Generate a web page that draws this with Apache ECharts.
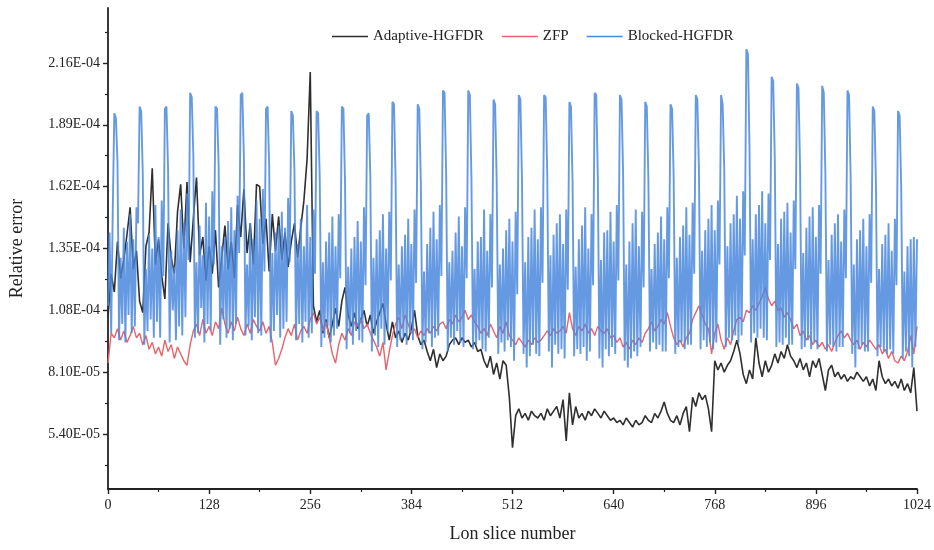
<!DOCTYPE html>
<html>
<head>
<meta charset="utf-8">
<script src="https://cdn.jsdelivr.net/npm/echarts@6/dist/echarts.min.js"></script>
<style>
  html, body { margin: 0; padding: 0; background: #fff; }
  #main { width: 934px; height: 550px; }
</style>
</head>
<body>
<div id="main"></div>
<script>
// values are in units of 1e-5
const SCALE = 1e-5;
const STEP_COARSE = 4; // Adaptive-HGFDR and ZFP: one value every 4 slices
const STEP_FINE = 2;   // Blocked-HGFDR: one value every 2 slices

const adaptive = [
  10.5, 12.4, 11.6, 13.8, 12.2, 13.0, 14.1, 15.3, 12.6, 13.4, 11.2, 10.7, 13.6, 14.2, 17.0, 12.8,
  13.9, 12.3, 11.3, 14.6, 13.1, 12.4, 15.1, 16.3, 13.5, 16.4, 12.9, 14.8, 16.6, 13.2, 14.0, 12.1,
  13.6, 12.4, 14.3, 11.8, 13.1, 14.5, 12.6, 13.8, 12.2, 15.4, 14.0, 16.1, 13.3, 14.6, 12.8, 16.3,
  16.2, 13.7, 14.8, 12.5, 15.0, 13.4, 14.9, 13.0, 14.2, 12.7, 13.8, 14.6, 13.1, 14.4, 15.6, 17.4,
  21.2, 11.0, 10.3, 10.8, 9.8, 10.4, 9.6, 10.2, 10.9, 10.1, 11.2, 11.8, 10.6, 10.1, 10.7, 10.0,
  10.4, 10.8, 10.1, 10.6, 9.8, 10.3, 10.7, 11.1, 10.2, 9.5, 10.3, 9.6, 9.9, 9.4, 9.8, 9.5,
  10.0, 10.8, 9.7, 9.3, 9.5, 9.0, 8.6, 9.1, 8.3, 8.9, 8.6, 8.8, 9.3, 9.5, 9.6, 9.3,
  9.6, 9.4, 9.5, 9.2, 9.4, 9.0, 9.1, 8.6, 8.3, 8.8, 8.0, 8.5, 7.8, 8.6, 8.4, 7.0,
  4.8, 6.2, 6.5, 6.1, 6.3, 6.0, 6.4, 6.2, 6.1, 6.3, 6.0, 6.5, 6.2, 6.4, 6.6, 6.1,
  6.9, 5.1, 7.2, 5.8, 6.6, 6.1, 6.3, 6.0, 6.4, 6.2, 6.5, 6.3, 6.1, 6.4, 6.2, 6.0,
  6.1, 5.9, 6.0, 5.8, 6.1, 5.9, 5.7, 6.0, 5.8, 5.9, 6.2, 6.0, 5.9, 6.3, 6.1, 6.4,
  6.8, 6.3, 6.0, 5.9, 6.2, 5.8, 6.3, 6.6, 5.5, 7.0, 6.6, 7.2, 6.9, 7.1, 6.5, 5.5,
  8.6, 8.2, 8.5, 8.1, 8.4, 8.6, 9.0, 9.5, 8.9, 8.0, 7.6, 8.2, 7.8, 9.6, 8.5, 7.9,
  8.6, 8.1, 8.4, 8.9, 8.5, 9.0, 8.7, 9.3, 8.8, 8.6, 8.3, 8.7, 8.2, 8.5, 7.9, 8.6,
  8.3, 8.7, 8.0, 7.3, 8.2, 8.4, 7.9, 8.1, 7.8, 8.0, 7.7, 7.9, 7.8, 8.1, 7.9, 7.7,
  7.9, 7.5, 7.8, 7.3, 8.6, 7.9, 7.6, 7.8, 7.5, 7.7, 7.4, 7.8, 7.3, 7.6, 7.2, 8.3,
  6.4
];

const zfp = [
  8.5, 9.8, 9.6, 10.0, 9.5, 9.9, 9.4, 9.7, 10.1, 9.6, 9.8, 9.3, 9.7, 9.1, 9.4, 8.9,
  9.2, 8.8, 9.5, 9.0, 9.3, 8.7, 9.2, 8.9, 8.6, 8.4, 9.3, 9.9, 10.2, 9.7, 10.4, 9.8,
  10.1, 9.7, 10.3, 10.0, 10.9, 10.2, 9.8, 10.3, 9.9, 10.5, 10.0, 9.7, 10.2, 9.8, 10.4, 10.1,
  9.9, 10.3, 9.8, 10.1, 9.4, 8.4, 8.7, 9.1, 9.6, 10.0, 9.7, 10.2, 9.5, 9.9, 10.1, 9.8,
  10.4, 10.7, 10.2, 10.5, 9.9, 10.3, 9.6, 8.9, 8.5, 9.3, 9.8, 9.5, 10.0, 9.7, 10.3, 10.1,
  10.4, 10.0, 10.2, 9.8, 9.5, 9.2, 8.8, 9.4, 8.2, 9.0, 9.7, 10.2, 10.5, 10.0, 10.6, 10.2,
  9.8, 10.0, 9.6, 9.9, 9.7, 10.0, 9.8, 10.1, 9.9, 10.2, 10.3, 10.0, 10.4, 10.2, 10.6, 10.3,
  10.5, 10.8, 10.4, 10.6, 10.3, 10.1, 9.8, 10.0, 9.7, 10.2, 9.9, 9.6, 10.1, 9.8, 10.3, 9.7,
  9.5, 9.3, 9.6, 9.4, 9.2, 9.5, 9.3, 9.6, 9.4, 9.5, 9.7, 9.9, 9.7, 10.0, 9.8, 9.9,
  10.1, 9.8, 10.7, 10.0, 9.7, 10.1, 9.9, 10.2, 9.8, 10.0, 9.7, 10.1, 9.9, 9.8, 10.0, 9.6,
  9.7, 9.4, 9.6, 9.2, 9.4, 9.1, 9.5, 9.3, 9.6, 9.4, 9.8, 10.0, 10.3, 9.9, 10.1, 10.4,
  10.2, 10.7, 10.1, 9.6, 9.3, 9.5, 9.2, 9.6, 9.8, 10.4, 10.7, 11.0, 10.6, 10.2, 10.0, 8.9,
  9.8, 10.2, 9.5, 9.1, 9.6, 9.3, 9.9, 10.4, 10.5, 10.3, 10.8, 10.7, 11.0, 10.8, 11.1, 11.4,
  11.8, 11.3, 11.0, 11.2, 10.8, 10.9, 10.5, 10.7, 10.4, 10.0, 10.2, 9.7, 9.9, 9.5, 9.7, 9.3,
  9.5, 9.2, 9.4, 9.1, 9.3, 9.0, 9.4, 9.7, 9.9, 9.6, 9.8, 9.5, 9.3, 9.5, 9.1, 9.4,
  9.2, 9.5, 9.3, 9.1, 9.3, 8.9, 9.1, 8.7, 9.0, 8.6, 8.5, 8.8, 8.6, 9.0, 9.7, 8.9,
  10.1
];

// one row per 32-slice block
const blocked = [
  11.0, 14.2, 9.8, 15.1, 19.4, 19.2, 17.3, 9.5, 13.1, 10.2, 14.4, 9.4, 13.8, 10.6, 15.0, 9.8,
  13.9, 10.1, 15.3, 14.6, 19.7, 19.5, 16.8, 9.3, 12.6, 9.9, 14.1, 10.4, 13.5, 9.6, 15.4, 10.3,
  14.0, 9.6, 15.6, 12.3, 19.6, 19.7, 17.0, 9.4, 13.4, 10.8, 12.7, 9.5, 14.3, 10.1, 15.2, 9.7,
  14.6, 10.5, 15.9, 13.0, 20.3, 20.1, 17.6, 9.6, 12.9, 9.8, 14.5, 10.9, 13.2, 9.4, 15.5, 10.2,
  14.9, 9.9, 16.0, 12.8, 19.7, 19.6, 17.2, 9.3, 13.6, 10.4, 14.0, 9.6, 14.7, 10.0, 15.3, 9.5,
  14.3, 10.2, 15.8, 13.3, 20.2, 20.3, 17.5, 9.7, 12.8, 10.1, 14.6, 9.5, 13.9, 10.5, 15.6, 9.8,
  14.8, 9.7, 16.1, 12.5, 19.6, 19.7, 17.1, 9.4, 13.3, 9.9, 14.2, 10.6, 14.5, 9.6, 15.1, 10.0,
  14.4, 10.3, 15.7, 12.9, 19.5, 19.3, 16.9, 9.5, 13.7, 10.2, 14.8, 9.4, 13.6, 10.3, 15.4, 9.6,
  14.0, 9.8, 15.2, 12.4, 19.5, 19.4, 16.6, 9.2, 12.9, 9.6, 13.8, 10.1, 14.2, 9.4, 14.9, 9.7,
  13.6, 10.0, 15.0, 12.2, 19.7, 19.6, 16.4, 9.1, 12.7, 9.8, 13.5, 9.3, 14.0, 9.9, 14.7, 9.5,
  13.8, 9.4, 15.3, 11.9, 19.3, 19.4, 16.7, 9.0, 13.1, 9.7, 13.9, 9.2, 14.3, 10.0, 15.0, 9.3,
  13.5, 9.9, 15.1, 12.1, 19.9, 19.8, 16.5, 9.2, 12.8, 9.5, 13.6, 9.6, 14.1, 9.3, 14.8, 9.8,
  13.7, 9.5, 15.2, 12.0, 19.8, 19.6, 16.3, 9.1, 12.5, 9.4, 13.7, 9.8, 14.4, 9.2, 15.1, 9.6,
  13.9, 9.7, 15.4, 12.3, 20.4, 20.3, 16.8, 9.0, 12.9, 9.6, 13.4, 9.3, 14.2, 9.9, 14.9, 9.4,
  13.6, 9.2, 15.3, 12.2, 20.4, 20.2, 16.6, 9.1, 12.6, 9.3, 13.8, 9.5, 14.0, 9.1, 15.2, 9.0,
  13.4, 9.6, 15.0, 11.8, 20.0, 19.8, 16.4, 8.9, 12.8, 9.4, 13.5, 9.0, 14.3, 9.5, 14.8, 9.2,
  13.8, 8.6, 15.1, 11.5, 20.2, 20.0, 16.5, 8.9, 12.9, 8.3, 14.0, 8.8, 14.4, 9.3, 15.2, 8.9,
  13.9, 8.8, 15.3, 12.0, 20.2, 20.1, 16.7, 9.0, 13.2, 8.3, 14.1, 9.3, 14.6, 8.9, 15.0, 9.1,
  13.7, 8.7, 15.2, 11.7, 19.9, 19.7, 16.4, 8.8, 12.7, 9.1, 13.9, 8.9, 14.5, 9.2, 15.3, 8.6,
  13.5, 9.0, 15.0, 11.9, 20.3, 20.2, 16.6, 8.7, 13.0, 8.3, 14.2, 9.1, 14.3, 8.8, 15.1, 9.2,
  13.8, 8.9, 15.4, 12.1, 20.2, 20.0, 16.8, 8.6, 12.8, 8.3, 13.8, 8.7, 14.6, 9.0, 15.2, 8.8,
  13.6, 9.2, 15.1, 11.8, 19.9, 19.7, 16.5, 9.0, 12.6, 9.4, 13.7, 9.1, 14.2, 9.3, 14.9, 9.0,
  13.9, 9.0, 15.3, 12.2, 19.8, 19.6, 16.6, 8.9, 13.1, 9.2, 14.0, 9.4, 14.5, 9.1, 15.3, 9.3,
  14.1, 9.3, 15.5, 12.4, 20.2, 20.0, 16.9, 9.1, 13.4, 9.5, 14.3, 9.2, 14.8, 9.4, 15.4, 9.1,
  14.3, 9.4, 15.6, 12.8, 20.2, 19.8, 17.0, 9.2, 13.6, 9.6, 14.6, 9.5, 15.0, 9.7, 15.8, 9.4,
  14.8, 9.7, 16.0, 13.2, 22.2, 22.0, 17.8, 9.4, 13.9, 9.8, 15.0, 9.6, 15.4, 10.0, 16.0, 9.6,
  14.6, 9.5, 15.9, 13.0, 21.0, 20.8, 17.4, 9.2, 13.7, 9.4, 14.8, 9.3, 15.1, 9.6, 15.5, 9.3,
  14.2, 9.3, 15.6, 12.6, 20.7, 20.5, 17.0, 9.1, 13.3, 9.2, 14.4, 9.5, 14.9, 9.1, 15.3, 9.4,
  14.0, 9.1, 15.4, 12.4, 20.6, 20.3, 16.8, 9.0, 13.0, 9.3, 14.1, 9.2, 14.6, 9.0, 15.0, 9.2,
  13.8, 9.2, 15.2, 12.2, 20.4, 20.2, 16.6, 8.9, 12.8, 8.3, 13.9, 9.1, 14.3, 9.3, 14.8, 9.0,
  13.6, 9.0, 15.0, 12.0, 19.7, 19.5, 16.4, 8.8, 12.6, 9.2, 13.7, 9.0, 14.1, 8.9, 14.6, 9.1,
  13.4, 8.9, 14.8, 11.9, 19.5, 19.3, 16.2, 8.7, 12.5, 9.0, 13.6, 8.8, 13.9, 8.3, 14.0, 9.2,
  13.9
];

const xTicks = { min: 0, max: 1024, interval: 128 };
const yMin = 3.0e-5;
const yMax = 2.4e-4;
const yTickValues = [5.4e-5, 8.1e-5, 1.08e-4, 1.35e-4, 1.62e-4, 1.89e-4, 2.16e-4];
const yMinorValues = [4.05e-5, 6.75e-5, 9.45e-5, 1.215e-4, 1.485e-4, 1.755e-4, 2.025e-4, 2.295e-4];

function toPairs(arr, step) {
  return arr.map((v, i) => [i * step, v * SCALE]);
}

function sci(v) {
  let s = v.toExponential(2).split('e');
  let e = parseInt(s[1], 10);
  let n = Math.abs(e);
  return s[0] + 'E' + (e < 0 ? '-' : '+') + (n < 10 ? '0' + n : n);
}

const FONT = '"Liberation Serif", "Times New Roman", serif';

let chart = echarts.init(document.getElementById('main'));
let option = {
  animation: false,
  backgroundColor: '#fff',
  textStyle: { fontFamily: FONT },
  legend: {
    top: 24,
    left: 327,
    icon: 'rect',
    itemWidth: 36,
    itemHeight: 1.5,
    itemGap: 18,
    textStyle: { fontFamily: FONT, fontSize: 15, color: '#222' },
    data: ['Adaptive-HGFDR', 'ZFP', 'Blocked-HGFDR']
  },
  grid: { left: 107, right: 16, top: 8, bottom: 61 },
  xAxis: {
    type: 'value',
    min: xTicks.min,
    max: xTicks.max,
    interval: xTicks.interval,
    name: 'Lon slice number',
    nameLocation: 'middle',
    nameGap: 36,
    nameTextStyle: { fontFamily: FONT, fontSize: 18, color: '#222' },
    axisLine: { lineStyle: { color: '#222', width: 1.8 } },
    axisTick: { length: 5, lineStyle: { color: '#222', width: 1.4 } },
    minorTick: { show: true, splitNumber: 2, length: 3, lineStyle: { color: '#222', width: 1.2 } },
    axisLabel: { fontFamily: FONT, fontSize: 14, color: '#222', margin: 9, formatter: v => String(v) },
    splitLine: { show: false }
  },
  yAxis: [
    {
      type: 'value',
      min: yMin,
      max: yMax,
      name: 'Relative error',
      nameLocation: 'middle',
      nameGap: 82,
      nameTextStyle: { fontFamily: FONT, fontSize: 18, color: '#222' },
      axisLine: { show: true, lineStyle: { color: '#222', width: 1.8 } },
      axisTick: { show: true, length: 5, customValues: yTickValues, lineStyle: { color: '#222', width: 1.4 } },
      axisLabel: { fontFamily: FONT, fontSize: 14, color: '#222', margin: 8, customValues: yTickValues, formatter: sci },
      splitLine: { show: false }
    },
    {
      type: 'value',
      min: yMin,
      max: yMax,
      position: 'left',
      axisLine: { show: false },
      axisTick: { show: true, length: 3, customValues: yMinorValues, lineStyle: { color: '#222', width: 1.2 } },
      axisLabel: { show: false },
      splitLine: { show: false }
    }
  ],
  series: [
    {
      name: 'Adaptive-HGFDR',
      type: 'line',
      symbol: 'none',
      z: 1,
      color: '#2f2f2f',
      lineStyle: { width: 1.6, color: '#2f2f2f' },
      data: toPairs(adaptive, STEP_COARSE)
    },
    {
      name: 'ZFP',
      type: 'line',
      symbol: 'none',
      z: 2,
      color: '#e8636b',
      lineStyle: { width: 1.4, color: '#e8636b' },
      data: toPairs(zfp, STEP_COARSE)
    },
    {
      name: 'Blocked-HGFDR',
      type: 'line',
      symbol: 'none',
      z: 3,
      color: '#4a88de',
      lineStyle: { width: 1.9, color: '#4a88de', opacity: 0.85 },
      data: toPairs(blocked, STEP_FINE)
    }
  ]
};
chart.setOption(option);
</script>
</body>
</html>
